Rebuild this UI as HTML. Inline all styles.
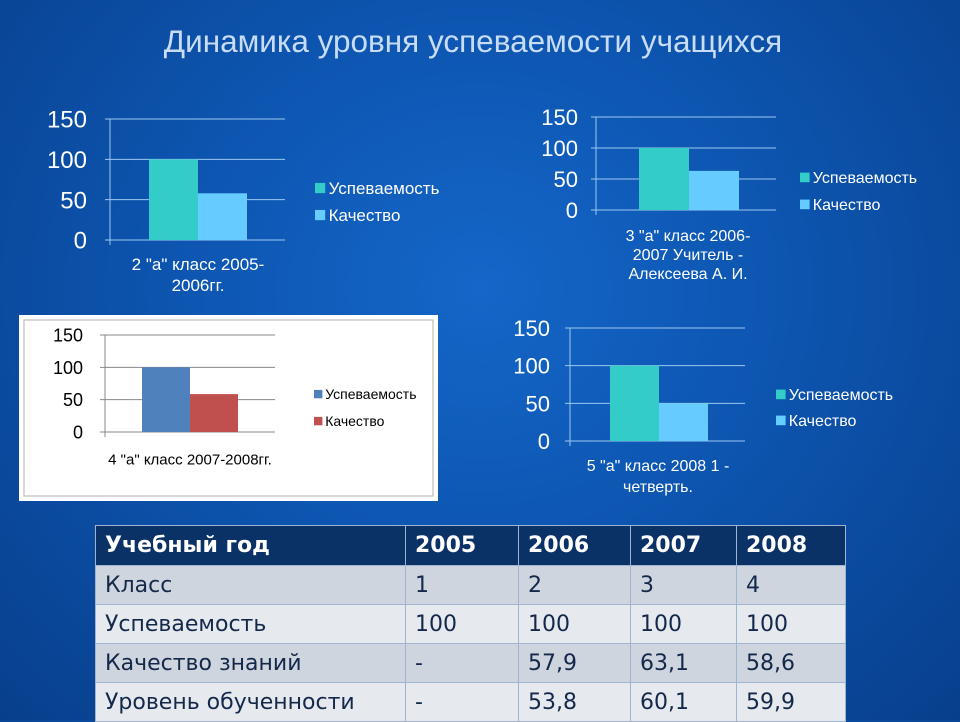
<!DOCTYPE html>
<html><head><meta charset="utf-8">
<style>
html,body{margin:0;padding:0}
body{width:960px;height:720px;overflow:hidden;position:relative;font-family:"Liberation Sans","DejaVu Sans",sans-serif;
background:radial-gradient(ellipse at 50% 40%,#1466c8 0%,#0d55b0 45%,#083f8c 100%);}
svg{position:absolute;left:0;top:0}
table{position:absolute;left:95px;top:525px;width:750px;table-layout:fixed;border-collapse:collapse;font-family:"DejaVu Sans","Liberation Sans",sans-serif;font-size:22px;color:#14284a}
td{padding:0 0 0 9px;height:38px;border:1px solid #9fb4d0;white-space:nowrap;overflow:hidden}
tr.h td{background:#0a3266;color:#fff;font-weight:bold;height:39px}
tr.a td{background:#cfd5de}
tr.b td{background:#e6e9ee}
</style></head><body>
<svg id="c" width="960" height="720">
<text x="473" y="52" text-anchor="middle" font-size="31.5" fill="#c8dcf4">Динамика уровня успеваемости учащихся</text>
<rect x="19" y="315" width="419" height="186" fill="#ffffff"/>
<rect x="24" y="320" width="409" height="176" fill="none" stroke="#b0b0b0"/>
</svg>
<table>
<colgroup><col style="width:310px"><col style="width:113px"><col style="width:112px"><col style="width:106px"><col style="width:109px"></colgroup>
<tr class="h"><td>Учебный год</td><td>2005</td><td>2006</td><td>2007</td><td>2008</td></tr>
<tr class="a"><td>Класс</td><td>1</td><td>2</td><td>3</td><td>4</td></tr>
<tr class="b"><td>Успеваемость</td><td>100</td><td>100</td><td>100</td><td>100</td></tr>
<tr class="a"><td>Качество знаний</td><td>-</td><td>57,9</td><td>63,1</td><td>58,6</td></tr>
<tr class="b"><td>Уровень обученности</td><td>-</td><td>53,8</td><td>60,1</td><td>59,9</td></tr>
</table>
<script>
const ticks=[0,50,100,150];
const uspev=[100,100,100,100];
const kach=[57.9,63.1,58.6,50];
const catLabels=[["2 \"а\" класс 2005-","2006гг."],["3 \"а\" класс 2006-","2007 Учитель -","Алексеева А. И."],["4 \"а\" класс 2007-2008гг."],["5 \"а\" класс 2008 1 -","четверть."]];
const legendNames=["Успеваемость","Качество"];
const charts=[
{x0:110,x1:285,y0:240,y1:119,b:149,bw:49,tf:24,lx:87,legx:315,legy:[194,221],lf:17,cx:198,cy:265,cl:21,c1:"#33ccc8",c2:"#66ccff",tc:"#ffffff",gc:"#9cc8f0",lc:"#ffffff"},
{x0:596,x1:776,y0:210,y1:117,b:639,bw:50,tf:22,lx:578,legx:800,legy:[183,210],lf:16,cx:688,cy:236,cl:19,c1:"#33ccc8",c2:"#66ccff",tc:"#ffffff",gc:"#9cc8f0",lc:"#ffffff"},
{x0:105,x1:275,y0:432,y1:335,b:142,bw:48,tf:18,lx:83,legx:314,legy:[399,426],lf:14,cx:190,cy:460,cl:15,c1:"#4f81bd",c2:"#c0504d",tc:"#000000",gc:"#888888",lc:"#000000"},
{x0:570,x1:745,y0:441,y1:328,b:610,bw:49,tf:22,lx:550,legx:776,legy:[400,426],lf:16,cx:658,cy:466,cl:21,c1:"#33ccc8",c2:"#66ccff",tc:"#ffffff",gc:"#9cc8f0",lc:"#ffffff"}];
const svg=document.getElementById('c');
const NS="http://www.w3.org/2000/svg";
function mk(t,a){const e=document.createElementNS(NS,t);for(const k in a)e.setAttribute(k,a[k]);svg.appendChild(e);return e;}
charts.forEach((c,i)=>{
 const y=v=>c.y0-(v/150)*(c.y0-c.y1);
 ticks.forEach(t=>{
  const l=mk('line',{x1:c.x0-5,x2:c.x1,y1:y(t),y2:y(t),stroke:c.gc,'stroke-width':1});
  
  
  const tx=mk('text',{x:c.lx,y:y(t)+c.tf*0.36,'text-anchor':'end','font-size':c.tf,fill:c.tc});
  tx.textContent=t;
  
  
 });
 const ax=mk('line',{x1:c.x0,x2:c.x0,y1:c.y1,y2:c.y0+5,stroke:c.gc});
 
 
 const b1=mk('rect',{x:c.b,y:y(uspev[i]),width:c.bw,height:c.y0-y(uspev[i]),fill:c.c1});
 
 
 const b2=mk('rect',{x:c.b+c.bw,y:y(kach[i]),width:c.bw,height:c.y0-y(kach[i]),fill:c.c2});
 
 
 legendNames.forEach((n,j)=>{
  const s=mk('rect',{x:c.legx,y:c.legy[j]-c.lf*0.65,width:c.lf*0.6,height:c.lf*0.6,fill:j?c.c2:c.c1});
  
  
  const t=mk('text',{x:c.legx+c.lf*0.8,y:c.legy[j],'font-size':c.lf,fill:c.lc});
  t.textContent=n;
  
  
 });
 catLabels[i].forEach((s,k)=>{
  const fs=i===2?15:c.lf;
  const t=mk('text',{x:c.cx,y:c.cy+k*c.cl+fs*0.3,'text-anchor':'middle','font-size':fs,fill:c.lc});
  t.textContent=s;
  
  
 });
});
</script>
</body></html>
